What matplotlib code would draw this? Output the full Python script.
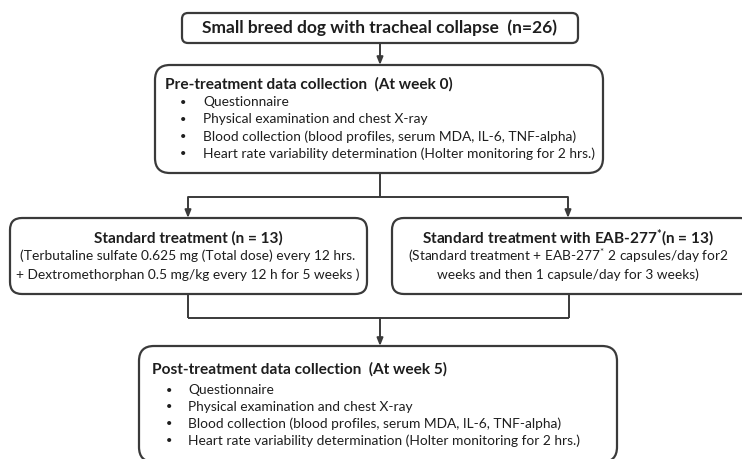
"""
Flow diagram of the tracheal collapse study, saved as out.png.
"""

import matplotlib.pyplot as plt
from matplotlib.patches import FancyBboxPatch

plt.rcParams["font.family"] = ["Lato", "DejaVu Sans"]
plt.rcParams["mathtext.default"] = "regular"

INK = "#1e1e1e"
EDGE = "#3a3a3a"

# --- box texts ---
top_title = "Small breed dog with tracheal collapse  (n=26)"

pre_title = "Pre-treatment data collection  (At week 0)"
post_title = "Post-treatment data collection  (At week 5)"
collect_items = [
    "Questionnaire",
    "Physical examination and chest X-ray",
    "Blood collection (blood profiles, serum MDA, IL-6, TNF-alpha)",
    "Heart rate variability determination (Holter monitoring for 2 hrs.)",
]

std_title = "Standard treatment (n = 13)"
std_lines = [
    "(Terbutaline sulfate 0.625 mg (Total dose) every 12 hrs.",
    "+ Dextromethorphan 0.5 mg/kg every 12 h for 5 weeks )",
]
eab_title = "Standard treatment with EAB-277$^{*}$(n = 13)"
eab_lines = [
    "(Standard treatment + EAB-277$^{*}$ 2 capsules/day for2",
    "weeks and then 1 capsule/day for 3 weeks)",
]

TITLE_FS = 11.1
BODY_FS = 9.9


def box(ax, x0, y0, x1, y1, r):
    ax.add_patch(FancyBboxPatch((x0, y0), x1 - x0, y1 - y0,
                                boxstyle=f"round,pad=0,rounding_size={r}",
                                fc="white", ec=EDGE, lw=1.6, clip_on=True))


def arrow(ax, x, y0, y1):
    ax.annotate("", xy=(x, y1), xytext=(x, y0),
                arrowprops=dict(arrowstyle="-|>,head_length=0.45,head_width=0.18",
                                color=EDGE, lw=1.4, shrinkA=0, shrinkB=0))


def line(ax, xs, ys):
    ax.plot(xs, ys, color=EDGE, lw=1.4, solid_capstyle="butt")


def bullet_box(ax, x_title, y_title, x_bullet, x_text, y0, dy, title, items):
    ax.text(x_title, y_title, title, fontsize=TITLE_FS, fontweight="bold",
            color=INK, va="center", ha="left")
    for i, item in enumerate(items):
        y = y0 + i * dy
        ax.text(x_bullet, y, "\u2022", fontsize=8, color=INK, va="center", ha="center")
        ax.text(x_text, y, item, fontsize=BODY_FS, color=INK, va="center", ha="left")


fig = plt.figure(figsize=(7.42, 4.59), dpi=100)
ax = fig.add_axes([0, 0, 1, 1])
ax.set_xlim(0, 742)
ax.set_ylim(459, 0)
ax.axis("off")

# top box
box(ax, 182, 13, 578, 43, 6)
ax.text(380, 28, top_title, fontsize=12.5, fontweight="bold", color=INK,
        ha="center", va="center")
arrow(ax, 380, 43, 65)

# pre-treatment box
box(ax, 155, 65, 603, 173, 15)
bullet_box(ax, 165, 84, 183, 203, 102, 17.3, pre_title, collect_items)

# split
line(ax, [380, 380], [173, 197])
line(ax, [188, 568], [197, 197])
arrow(ax, 188, 197, 218)
arrow(ax, 568, 197, 218)

# treatment boxes
box(ax, 10, 218, 367, 294, 12)
ax.text(188, 238, std_title, fontsize=TITLE_FS, fontweight="bold", color=INK,
        ha="center", va="center")
for i, t in enumerate(std_lines):
    ax.text(188, 256 + i * 18.5, t, fontsize=BODY_FS, color=INK, ha="center", va="center")

box(ax, 392, 218, 752, 294, 12)
ax.text(568, 238, eab_title, fontsize=TITLE_FS, fontweight="bold", color=INK,
        ha="center", va="center")
for i, t in enumerate(eab_lines):
    ax.text(568, 256 + i * 18.5, t, fontsize=BODY_FS, color=INK, ha="center", va="center")

# merge
line(ax, [188, 188], [294, 318])
line(ax, [569, 569], [294, 318])
line(ax, [188, 569], [318, 318])
arrow(ax, 380, 318, 346)

# post-treatment box
box(ax, 139, 346, 617, 462, 15)
bullet_box(ax, 152, 369, 169, 188, 390, 16.9, post_title, collect_items)

fig.savefig("out.png", dpi=100)
